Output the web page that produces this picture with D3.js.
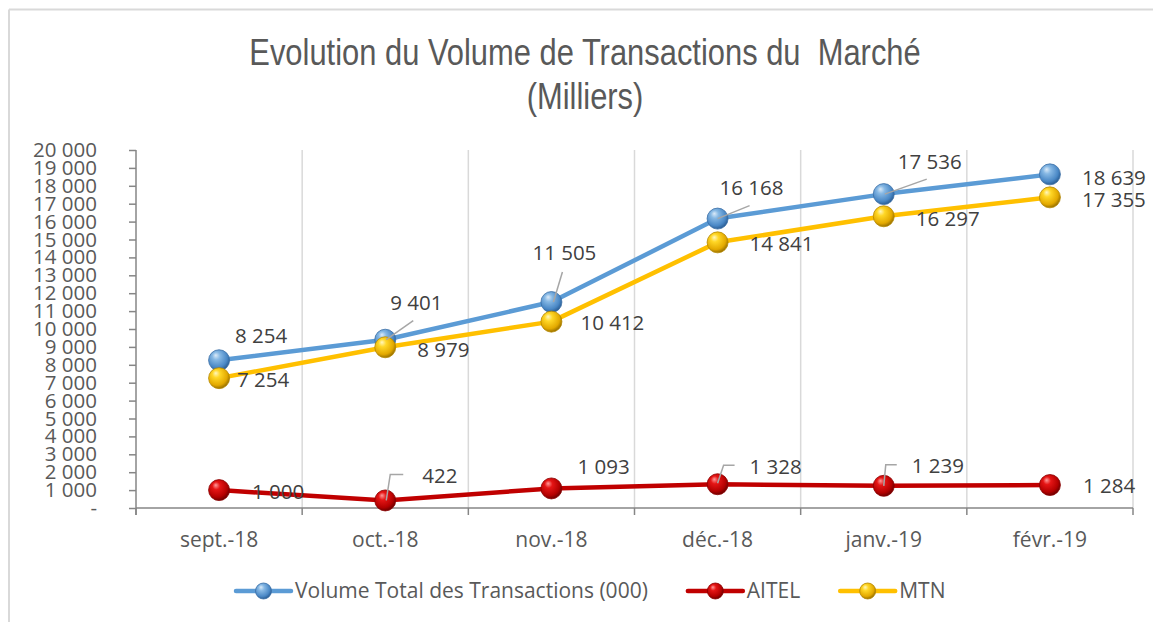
<!DOCTYPE html>
<html>
<head>
<meta charset="utf-8">
<script src="https://cdn.jsdelivr.net/npm/d3@7"></script>
<style>
  html, body { margin: 0; padding: 0; background: #ffffff; }
  svg { display: block; }
</style>
</head>
<body>
<svg id="chart" width="1153" height="622"></svg>
<script>
// ---------- DATA ----------
const categories = ["sept.-18", "oct.-18", "nov.-18", "déc.-18", "janv.-19", "févr.-19"];
const totalValues = [8254, 9401, 11505, 16168, 17536, 18639];
const aitelValues = [1000, 422, 1093, 1328, 1239, 1284];
const mtnValues   = [7254, 8979, 10412, 14841, 16297, 17355];
const seriesNames = ["Volume Total des Transactions (000)", "AITEL", "MTN"];
const yTicks = [0, 1000, 2000, 3000, 4000, 5000, 6000, 7000, 8000, 9000, 10000,
                11000, 12000, 13000, 14000, 15000, 16000, 17000, 18000, 19000, 20000];
const titleLines = ["Evolution du Volume de Transactions du  Marché", "(Milliers)"];

// ---------- STYLE / LAYOUT ----------
const W = 1153, H = 622;
const plot = { left: 136, right: 1133, top: 150, bottom: 508 };
const axisFont = "'Open Sans', 'Noto Sans', sans-serif";
const labelSize = 20.5;

const seriesStyle = [
  { color: "#5B9BD5", grad: "gBlue",   stops: ["#dbeaf8", "#86b8e4", "#4a88c6", "#2b5f96"], stroke: "#3b6fa6" },
  { color: "#C00000", grad: "gRed",    stops: ["#ff9a9a", "#e51515", "#b30000", "#6e0000"], stroke: "#8a0000" },
  { color: "#FFC000", grad: "gYellow", stops: ["#fff7c0", "#ffd726", "#e3a900", "#9a7200"], stroke: "#b58800" }
];

// label offsets (px) from each marker, and leader polylines (px) from each marker
const labelOffsets = [
  [[16, -25], [5, -37], [-19, -49], [2, -31], [14, -32], [32, 3]],
  [[33, 2], [37, -25], [26, -22], [32, -18], [28, -20], [33, 1]],
  [[18, 2], [32, 2], [29, 1], [32, 1], [32, 2], [32, 2]]
];
const leaders = [
  [null, [[1, 0], [28, -19]], [[2, 0], [11, -30]], [[0, 0], [32, -13]], [[1, 0], [43, -15]], null],
  [null, [[1, 0], [5, -26], [18, -26]], null, [[0, -1], [6, -19], [17, -19]], [[0, 0], [2, -21], [13, -21]], null],
  [null, null, null, null, null, null]
];

const svg = d3.select("#chart");
const defs = svg.append("defs");
seriesStyle.forEach(s => {
  const g = defs.append("radialGradient").attr("id", s.grad)
    .attr("cx", "42%").attr("cy", "38%").attr("r", "62%")
    .attr("fx", "34%").attr("fy", "26%");
  [0, 0.3, 0.78, 1].forEach((o, i) =>
    g.append("stop").attr("offset", o).attr("stop-color", s.stops[i]));
});

// background + border
svg.append("rect").attr("width", W).attr("height", H).attr("fill", "#fff");
svg.append("line").attr("x1", 9).attr("x2", W).attr("y1", 9.5).attr("y2", 9.5)
  .attr("stroke", "#d9d9d9").attr("stroke-width", 2);
svg.append("line").attr("x1", 9).attr("x2", 9).attr("y1", 9.5).attr("y2", H)
  .attr("stroke", "#d9d9d9").attr("stroke-width", 2);

// title (narrow look: horizontally condensed sans)
const titleX = 585;
svg.append("g").attr("transform", `translate(${titleX},0) scale(0.835,1)`)
  .selectAll("text").data(titleLines).join("text")
  .attr("x", 0).attr("y", (d, i) => 65 + i * 44)
  .attr("text-anchor", "middle")
  .attr("xml:space", "preserve").style("white-space", "pre")
  .attr("font-family", "'Liberation Sans', Arial, sans-serif")
  .attr("font-size", 37).attr("fill", "#595959")
  .text(d => d);

// scales
const x = d3.scaleBand().domain(categories).range([plot.left, plot.right]).padding(0);
const y = d3.scaleLinear().domain([0, 20000]).range([plot.bottom, plot.top]);
const cx = c => x(c) + x.bandwidth() / 2;

const loc = d3.formatLocale({ decimal: ",", thousands: " ", grouping: [3], currency: ["", ""] });
const fmt = loc.format(",d");

// vertical gridlines at category boundaries
const boundaries = categories.map(c => x(c)).concat([plot.right]);
svg.append("g").selectAll("line").data(boundaries.slice(1)).join("line")
  .attr("x1", d => d).attr("x2", d => d)
  .attr("y1", plot.top).attr("y2", plot.bottom)
  .attr("stroke", "#d9d9d9").attr("stroke-width", 1.5);

// y axis
const yAxis = svg.append("g").attr("transform", `translate(${plot.left},0)`)
  .call(d3.axisLeft(y).tickValues(yTicks).tickSize(7).tickPadding(32)
    .tickFormat(v => v === 0 ? "-" : fmt(v)));
yAxis.select(".domain").attr("stroke", "#868686").attr("stroke-width", 1.5)
  .attr("d", `M0,${plot.top}V${plot.bottom + 7}`);
yAxis.selectAll(".tick line").attr("stroke", "#868686").attr("stroke-width", 1.5);
yAxis.selectAll(".tick text").attr("font-family", axisFont).attr("font-size", 20.5)
  .attr("fill", "#595959");

// x axis
const xAxis = svg.append("g").attr("transform", `translate(0,${plot.bottom})`)
  .call(d3.axisBottom(x).tickSize(0).tickPadding(24));
xAxis.select(".domain").attr("stroke", "#868686").attr("stroke-width", 1.5)
  .attr("d", `M${plot.left},0H${plot.right}`);
xAxis.selectAll(".tick text").attr("font-family", axisFont).attr("font-size", 21)
  .attr("fill", "#595959");
xAxis.append("g").selectAll("line").data(boundaries).join("line")
  .attr("x1", d => d).attr("x2", d => d).attr("y1", 0).attr("y2", 7)
  .attr("stroke", "#868686").attr("stroke-width", 1.5);

// series
const allSeries = [totalValues, aitelValues, mtnValues];
const line = d3.line().x((d, i) => cx(categories[i])).y(d => y(d));

allSeries.forEach((vals, si) => {
  const st = seriesStyle[si];
  const g = svg.append("g");
  g.append("path").datum(vals).attr("d", line)
    .attr("fill", "none").attr("stroke", st.color).attr("stroke-width", 4.5)
    .attr("stroke-linejoin", "round").attr("stroke-linecap", "round");
  g.selectAll("circle").data(vals).join("circle")
    .attr("cx", (d, i) => cx(categories[i])).attr("cy", d => y(d)).attr("r", 10.5)
    .attr("fill", `url(#${st.grad})`).attr("stroke", st.stroke).attr("stroke-width", 0.8);
});

// leaders and labels
allSeries.forEach((vals, si) => {
  const g = svg.append("g");
  vals.forEach((v, i) => {
    const px = cx(categories[i]), py = y(v);
    const ld = leaders[si][i];
    if (ld) {
      g.append("polyline")
        .attr("points", ld.map(p => `${px + p[0]},${py + p[1]}`).join(" "))
        .attr("fill", "none").attr("stroke", "#a6a6a6").attr("stroke-width", 1.5);
    }
  });
  vals.forEach((v, i) => {
    const px = cx(categories[i]), py = y(v);
    const off = labelOffsets[si][i];
    g.append("text").attr("x", px + off[0]).attr("y", py + off[1]).attr("dy", "0.357em")
      .attr("font-family", axisFont).attr("font-size", labelSize).attr("fill", "#404040")
      .text(fmt(v));
  });
});

// legend
const legend = svg.append("g");
let lx = 236;
const ly = 591;
seriesNames.forEach((name, si) => {
  const st = seriesStyle[si];
  legend.append("line").attr("x1", lx).attr("x2", lx + 55).attr("y1", ly).attr("y2", ly)
    .attr("stroke", st.color).attr("stroke-width", 4.5).attr("stroke-linecap", "round");
  legend.append("circle").attr("cx", lx + 27.5).attr("cy", ly).attr("r", 8)
    .attr("fill", `url(#${st.grad})`).attr("stroke", st.stroke).attr("stroke-width", 0.8);
  const t = legend.append("text").attr("x", lx + 59).attr("y", ly).attr("dy", "0.357em")
    .attr("font-family", axisFont).attr("font-size", 21).attr("fill", "#595959").text(name);
  lx += 59 + t.node().getComputedTextLength() + 40;
});
</script>
</body>
</html>
